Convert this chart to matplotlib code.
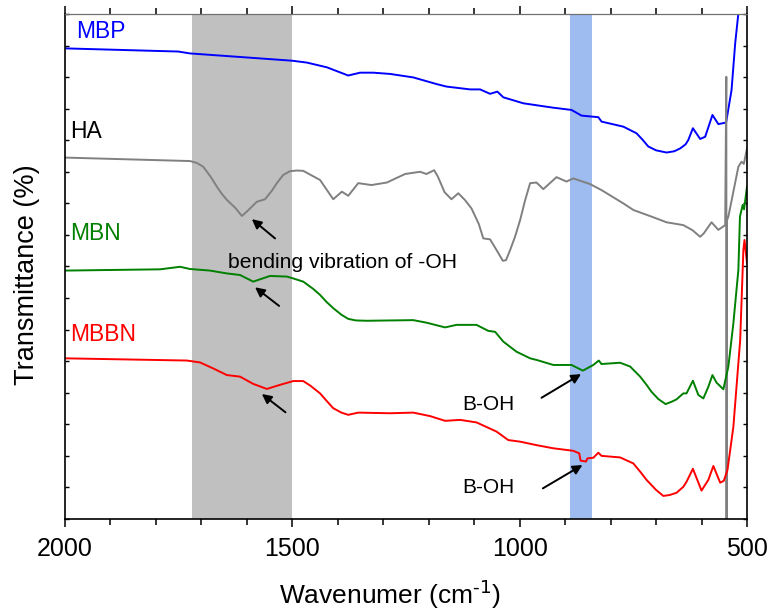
import matplotlib.pyplot as plt
from matplotlib.ticker import MultipleLocator, NullFormatter

plt.rcParams['font.family'] = ['Liberation Sans', 'DejaVu Sans']
plt.rcParams['mathtext.default'] = 'regular'

# FTIR spectra, offset for clarity (arbitrary transmittance units)
mbp_wn = [2000, 1751, 1725, 1501, 1468, 1424, 1377, 1351, 1322, 1285, 1234, 1183,
          1161, 1109, 1087, 1065, 1049, 1036, 992, 926, 886, 864, 827, 820, 772,
          743, 730, 717, 700, 677, 660, 647, 635, 629, 619, 603, 592, 576, 563,
          546, 534, 526, 519, 510]
mbp_t = [14.91, 14.81, 14.75, 14.52, 14.46, 14.31, 14.05, 14.14, 14.14, 14.10,
         13.99, 13.78, 13.70, 13.61, 13.61, 13.47, 13.54, 13.36, 13.17, 13.03,
         12.96, 12.78, 12.73, 12.59, 12.43, 12.22, 12.02, 11.80, 11.68, 11.61,
         11.65, 11.74, 11.87, 12.01, 12.38, 12.04, 12.11, 12.80, 12.51, 12.56,
         13.59, 15.07, 16.02, 17.0]

ha_wn = [2000, 1725, 1710, 1696, 1680, 1666, 1655, 1644, 1625, 1611, 1600, 1578,
         1560, 1545, 1534, 1520, 1505, 1490, 1476, 1439, 1410, 1391, 1377, 1355,
         1326, 1292, 1252, 1219, 1205, 1188, 1180, 1165, 1150, 1135, 1120, 1106,
         1090, 1080, 1065, 1050, 1037, 1030, 1021, 1010, 999, 988, 977, 963, 948,
         919, 897, 882, 845, 820, 787, 770, 750, 710, 677, 640, 620, 603, 595, 578,
         563, 548, 545.5, 545, 544.5, 541, 519, 512, 507, 500]
ha_t = [11.45, 11.34, 11.28, 11.16, 10.85, 10.53, 10.30, 10.11, 9.85, 9.60, 9.74,
        10.05, 10.13, 10.40, 10.64, 10.90, 11.02, 11.04, 11.03, 10.74, 10.13, 10.37,
        10.24, 10.64, 10.58, 10.66, 10.93, 11.00, 10.93, 11.05, 10.85, 10.35, 10.13,
        10.32, 10.10, 9.84, 9.35, 8.89, 8.86, 8.50, 8.18, 8.20, 8.52, 8.95, 9.47,
        10.10, 10.64, 10.66, 10.45, 10.83, 10.69, 10.79, 10.61, 10.42, 10.13, 9.98,
        9.79, 9.58, 9.40, 9.31, 9.15, 8.94, 9.05, 9.40, 9.16, 9.31, 14.01, -1.0,
        9.45, 9.58, 11.16, 11.32, 11.25, 11.74]

mbn_wn = [2000, 1791, 1747, 1725, 1681, 1644, 1615, 1586, 1549, 1512, 1500, 1476,
          1455, 1439, 1425, 1410, 1392, 1377, 1360, 1336, 1234, 1205, 1164, 1139,
          1095, 1069, 1054, 1036, 1007, 977, 963, 926, 886, 861, 838, 826, 820,
          779, 757, 735, 722, 710, 695, 679, 665, 655, 640, 633, 619, 607, 596,
          585, 576, 567, 552, 541, 530, 519, 515.5, 509.5, 506.5, 500]
mbn_t = [7.87, 7.91, 7.99, 7.92, 7.87, 7.78, 7.73, 7.52, 7.70, 7.68, 7.63, 7.52,
         7.30, 7.10, 6.88, 6.68, 6.47, 6.34, 6.29, 6.28, 6.30, 6.22, 6.07, 6.15,
         6.15, 5.96, 5.93, 5.62, 5.30, 5.09, 5.04, 4.88, 4.88, 4.70, 4.88, 5.02,
         4.91, 4.95, 4.83, 4.51, 4.27, 4.03, 3.80, 3.64, 3.72, 3.79, 3.98, 3.98,
         4.38, 3.93, 3.82, 4.19, 4.56, 4.32, 4.11, 4.83, 6.20, 7.89, 9.58, 9.95,
         9.81, 10.53]

mbbn_wn = [2000, 1732, 1703, 1674, 1644, 1615, 1586, 1556, 1527, 1498, 1476, 1460,
           1439, 1425, 1410, 1392, 1377, 1355, 1285, 1234, 1197, 1164, 1131, 1095,
           1051, 1025, 999, 963, 926, 882, 869, 866, 854, 851, 838, 827, 820, 779,
           750, 735, 721, 700, 684, 670, 655, 640, 633, 619, 600, 585, 574, 559,
           551, 543, 530, 515, 508, 505.5, 500]
mbbn_t = [5.09, 5.02, 4.96, 4.77, 4.56, 4.51, 4.28, 4.12, 4.25, 4.37, 4.37, 4.22,
          3.98, 3.75, 3.51, 3.37, 3.30, 3.37, 3.35, 3.37, 3.26, 3.11, 3.14, 3.06,
          2.77, 2.50, 2.45, 2.34, 2.24, 2.16, 2.08, 1.85, 1.82, 1.92, 1.94, 2.10,
          2.00, 1.95, 1.76, 1.50, 1.24, 0.92, 0.73, 0.76, 0.83, 1.02, 1.18, 1.59,
          0.90, 1.24, 1.68, 1.15, 1.21, 1.55, 2.92, 5.67, 8.52, 8.84, 8.10]

oh_band = (1720, 1500)
boh_band = (890, 842)

fig = plt.figure(figsize=(7.69, 6.10), dpi=100)
ax = fig.add_axes([0.0845, 0.1492, 0.8869, 0.8279])

ax.axvspan(*oh_band, color='#c0c0c0', lw=0, zorder=0)
ax.axvspan(*boh_band, color='#9fbcf0', lw=0, zorder=0)

ax.plot(mbp_wn, mbp_t, color='#0000ff', lw=1.4)
ax.plot(ha_wn, ha_t, color='#808080', lw=1.4)
ax.plot(mbn_wn, mbn_t, color='#008000', lw=1.4)
ax.plot(mbbn_wn, mbbn_t, color='#ff0000', lw=1.4)

ax.text(1976, 15.45, 'MBP', color='#0000ff', fontsize=16.5, va='center')
ax.text(1989, 12.29, 'HA', color='black', fontsize=16.5, va='center')
ax.text(1989, 9.05, 'MBN', color='#008000', fontsize=16.5, va='center')
ax.text(1989, 5.86, 'MBBN', color='#ff0000', fontsize=16.5, va='center')

ax.text(1641, 7.94, 'bending vibration of -OH', fontsize=15.2, va='baseline')
ax.text(1127, 3.45, 'B-OH', fontsize=15, va='baseline')
ax.text(1127, 0.82, 'B-OH', fontsize=15, va='baseline')

arrow = dict(arrowstyle='-|>', color='black', lw=1.4, mutation_scale=14,
             shrinkA=0, shrinkB=0)
for head, tail in [((1589, 9.50), (1538, 8.89)),
                   ((1582, 7.34), (1529, 6.75)),
                   ((1567, 3.96), (1515, 3.38)),
                   ((865, 4.59), (952, 3.84)),
                   ((862, 1.71), (949, 0.97))]:
    ax.annotate('', xy=head, xytext=tail, arrowprops=arrow)

ax.set_xlim(2000, 500)
ax.set_ylim(0, 16)
ax.xaxis.set_major_locator(MultipleLocator(500))
ax.xaxis.set_minor_locator(MultipleLocator(100))
ax.yaxis.set_major_locator(MultipleLocator(1))
ax.yaxis.set_major_formatter(NullFormatter())

ax.tick_params(axis='x', which='major', direction='out', length=6, width=1.1,
               labelsize=18, pad=7, top=True)
ax.tick_params(axis='x', which='minor', direction='out', length=4.5, width=1.1,
               top=True)
ax.tick_params(axis='y', which='major', direction='in', length=3, width=1,
               right=True)

for side in ['left', 'bottom', 'right']:
    ax.spines[side].set_linewidth(1.2)
ax.spines['top'].set_color('#707070')
ax.spines['top'].set_linewidth(0.9)

ax.set_xlabel(r'Wavenumer (cm$^{\text{-1}}$)', fontsize=19)
ax.set_ylabel('Transmittance (%)', fontsize=19.5)
ax.xaxis.set_label_coords(0.477, -0.118)
ax.yaxis.set_label_coords(-0.036, 0.483)

fig.savefig('out.png', dpi=100)
